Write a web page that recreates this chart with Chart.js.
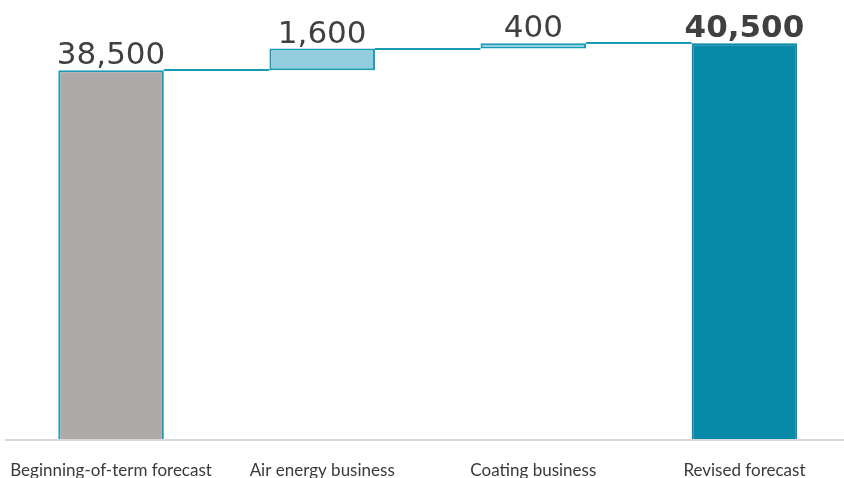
<!DOCTYPE html>
<html>
<head>
<meta charset="utf-8">
<script src="https://cdn.jsdelivr.net/npm/chart.js@4/dist/chart.umd.min.js"></script>
<style>
html,body{margin:0;padding:0;background:#fff;overflow:hidden;width:844px;height:478px;}
canvas{display:block;}
</style>
</head>
<body>
<canvas id="c" width="850" height="478"></canvas>
<script>
const categories = ["Beginning-of-term forecast", "Air energy business", "Coating business", "Revised forecast"];
const values = [38500, 1600, 400, 40500];
const kinds = ["total", "delta", "delta", "total"];
const valueLabels = ["38,500", "1,600", "400", "40,500"];
const boldLabel = [false, false, false, true];

// floating ranges built from the values
const ranges = [];
let running = 0;
for (let i = 0; i < values.length; i++) {
  if (kinds[i] === "total") { ranges.push([0, values[i]]); running = values[i]; }
  else { ranges.push([running, running + values[i]]); running += values[i]; }
}

const fillColors = ["#aeaaaa", "#92cddd", "#92cddd", "#078aa8"];
const borderColors = ["#1a9bb5", "#1a9bb5", "#1a9bb5", "#078aa8"];

const waterfallPlugin = {
  id: "waterfall",
  afterDatasetsDraw(chart) {
    const ctx = chart.ctx;
    const meta = chart.getDatasetMeta(0);
    const y = chart.scales.y;
    ctx.save();
    ctx.strokeStyle = "#1a9bb5";
    ctx.lineWidth = 2;
    for (let i = 0; i < meta.data.length - 1; i++) {
      const a = meta.data[i], b = meta.data[i + 1];
      const level = ranges[i][1];
      const py = Math.round(y.getPixelForValue(level));
      ctx.beginPath();
      ctx.moveTo(a.x + a.width / 2, py);
      ctx.lineTo(b.x - b.width / 2, py);
      ctx.stroke();
    }
    ctx.fillStyle = "#404040";
    ctx.textAlign = "center";
    ctx.textBaseline = "alphabetic";
    for (let i = 0; i < meta.data.length; i++) {
      const el = meta.data[i];
      const top = y.getPixelForValue(Math.max(ranges[i][0], ranges[i][1]));
      ctx.font = (boldLabel[i] ? "bold " : "") + "31px 'DejaVu Sans'";
      ctx.fillText(valueLabels[i], el.x, top - 6);
    }
    ctx.restore();
  }
};

new Chart(document.getElementById("c"), {
  type: "bar",
  data: {
    labels: categories,
    datasets: [{
      data: ranges,
      backgroundColor: fillColors,
      borderColor: borderColors,
      borderWidth: 2,
      borderSkipped: false,
      categoryPercentage: 1,
      barPercentage: 0.5
    }]
  },
  options: {
    responsive: false,
    animation: false,
    layout: { padding: 0 },
    plugins: { legend: { display: false }, tooltip: { enabled: false } },
    scales: {
      x: {
        grid: { display: false, drawTicks: false },
        border: { display: true, color: "#d9d9d9", width: 2, z: 1 },
        ticks: { color: "#3a3a3a", font: { family: "Lato", size: 17, lineHeight: 1 }, padding: 22, maxRotation: 0, autoSkip: false },
        afterFit(scale) {
          scale.height = 38;
          scale.paddingLeft = 5.5;
          scale.paddingRight = 0;
        }
      },
      y: { display: false, min: 11100, max: 43700 }
    }
  },
  plugins: [waterfallPlugin]
});
</script>
</body>
</html>
